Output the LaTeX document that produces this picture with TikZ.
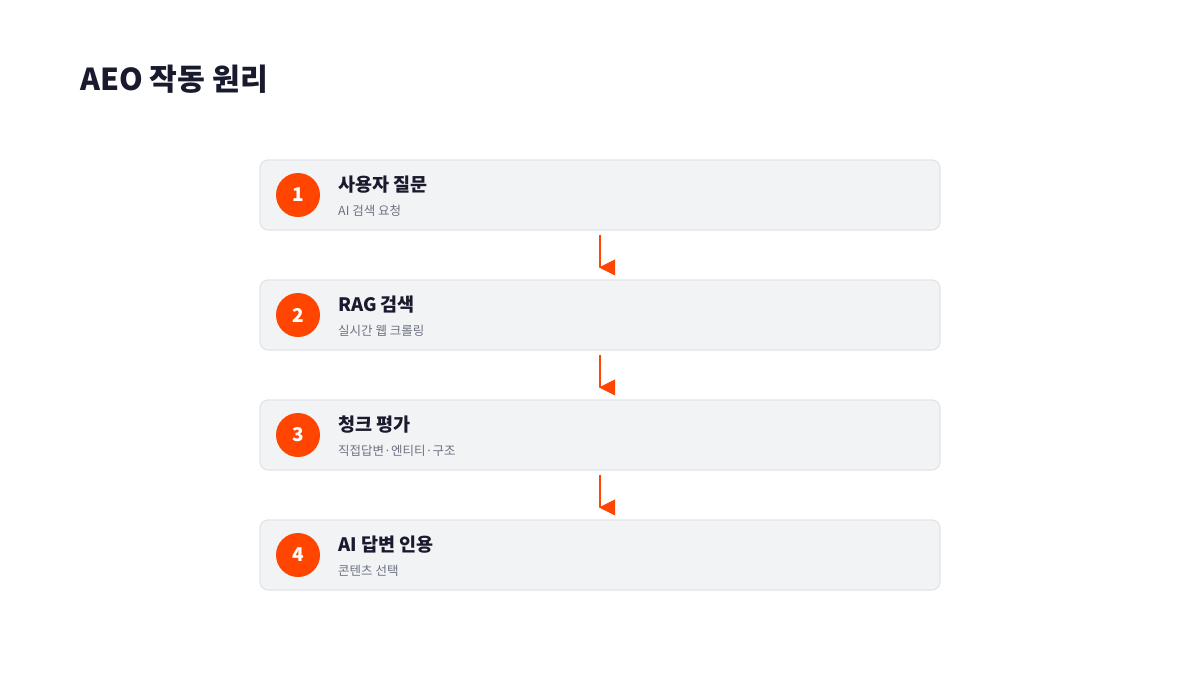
\documentclass[tikz,border=0pt]{standalone}
\usepackage{fontspec}
\setmainfont{Noto Sans CJK KR}
\usetikzlibrary{calc}
\definecolor{ink}{HTML}{1A1A2E}
\definecolor{sub}{HTML}{6B7280}
\definecolor{boxfill}{HTML}{F2F3F5}
\definecolor{boxline}{HTML}{E2E4E8}
\definecolor{accent}{HTML}{FF4500}
\begin{document}
\begin{tikzpicture}[x=1pt,y=-1pt,
  stepbox/.style={draw=boxline,fill=boxfill,line width=1.2pt,rounded corners=8pt,minimum width=680pt,minimum height=70pt,inner sep=0pt},
  numdot/.style={circle,fill=accent,minimum size=44pt,inner sep=0pt,text=white,font=\fontsize{19}{22}\selectfont\bfseries},
  steptitle/.style={anchor=base west,inner sep=0pt,text=ink,font=\fontsize{18.5}{22}\selectfont\bfseries},
  stepsub/.style={anchor=base west,inner sep=0pt,text=sub,font=\fontsize{12.5}{15}\selectfont},
  flow/.style={draw=accent,line width=2pt},
  tip/.style={fill=accent}]
\useasboundingbox (0,0) rectangle (1200,675);
\fill[white] (0,0) rectangle (1200,675);
\node[anchor=base west,inner sep=0pt,text=ink,font=\fontsize{30.2}{34}\selectfont\bfseries] (title) at (80,90) {AEO 작동 원리};
\foreach \i/\y/\t/\s in {1/195/사용자 질문/AI 검색 요청,2/315/RAG 검색/실시간 웹 크롤링,3/435/청크 평가/직접답변·엔티티·구조,4/555/AI 답변 인용/콘텐츠 선택}{
  \node[stepbox] (b\i) at (600,\y) {};
  \node[numdot] (n\i) at (298,\y) {\i};
  \node[steptitle] (t\i) at (338,\y-4) {\t};
  \node[stepsub] (s\i) at (338,\y+20) {\s};
}
\foreach \a/\b in {1/2,2/3,3/4}{
  \coordinate (p\a) at ($(b\a.south)+(0,4)$);
  \coordinate (q\a) at ($(b\b.north)+(0,-12)$);
  \draw[flow] (p\a) -- (q\a);
  \fill[tip] ($(q\a)+(-1,0)$) -- ($(q\a)+(15,-8)$) -- ($(q\a)+(15,8)$) -- cycle;
}
\end{tikzpicture}
\end{document}
